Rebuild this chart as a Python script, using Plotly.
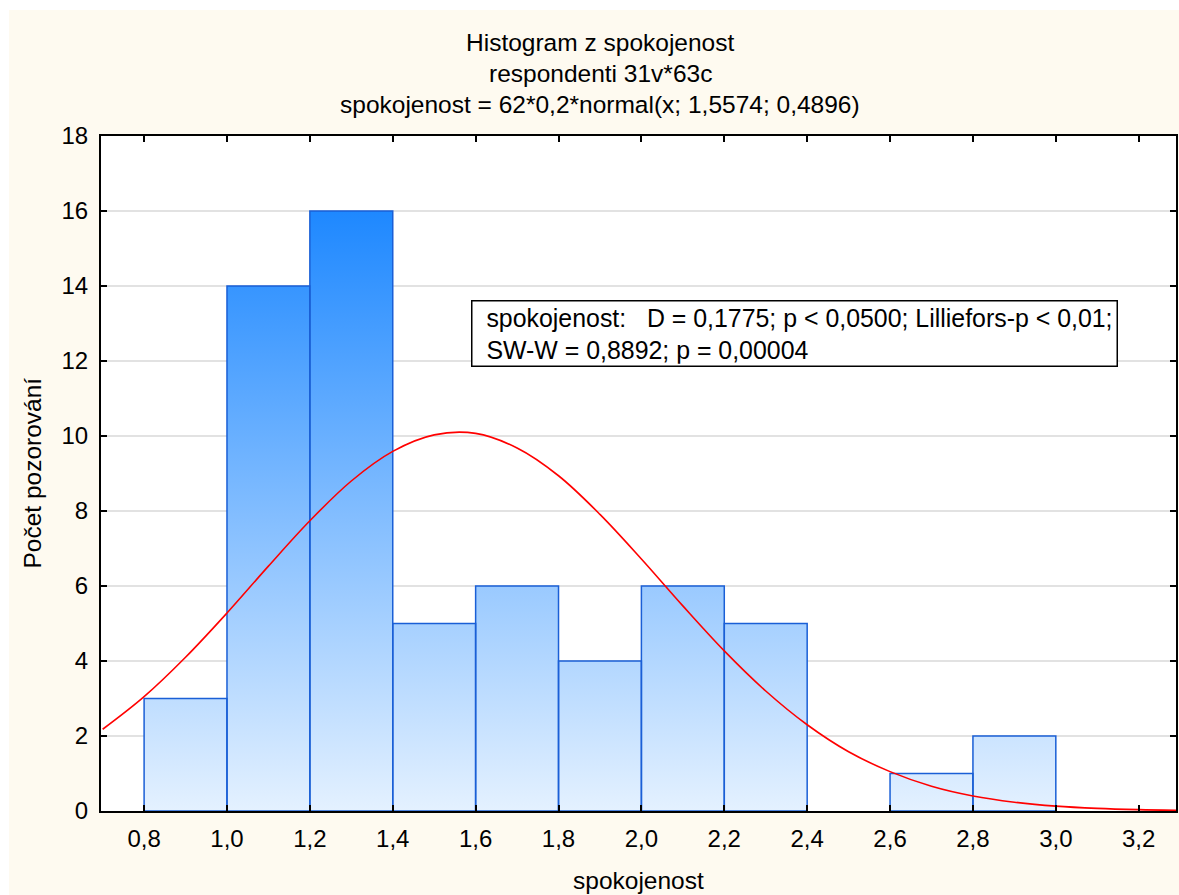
import plotly.graph_objects as go

# ---- data ----
bin_starts = [0.8, 1.0, 1.2, 1.4, 1.6, 1.8, 2.0, 2.2, 2.4, 2.6, 2.8]
bin_width = 0.2
counts = [3, 14, 16, 5, 6, 4, 6, 5, 0, 1, 2]

# fitted normal curve values
curve_x = [0.7, 0.8, 0.9, 1.0, 1.1, 1.2, 1.3, 1.4, 1.5, 1.6, 1.7, 1.8, 1.9, 2.0,
           2.1, 2.2, 2.3, 2.4, 2.5, 2.6, 2.7, 2.8, 2.9, 3.0, 3.1, 3.2, 3.3]
curve_y = [2.18, 3.05, 4.10, 5.28, 6.53, 7.74, 8.80, 9.59, 10.03, 10.07, 9.68, 8.94,
           7.91, 6.72, 5.47, 4.27, 3.20, 2.30, 1.58, 1.05, 0.66, 0.40, 0.235, 0.13,
           0.07, 0.036, 0.018]

title_lines = ["Histogram z spokojenost", "respondenti 31v*63c",
               "spokojenost = 62*0,2*normal(x; 1,5574; 0,4896)"]
stats_lines = ["spokojenost:&nbsp;&nbsp;&nbsp;D = 0,1775; p &lt; 0,0500; Lilliefors-p &lt; 0,01;",
               "SW-W = 0,8892; p = 0,00004"]
x_title = "spokojenost"
y_title = "Počet pozorování"

FONT = "Liberation Sans, Arial, sans-serif"
FS = 24.5
FT = 24
BEIGE = "#FEFAF0"

# build bar outlines from the data
bx, by = [], []
for s, c in zip(bin_starts, counts):
    if c <= 0:
        continue
    e = s + bin_width
    bx += [s, s, e, e, s, None]
    by += [0, c, c, 0, 0, None]

fig = go.Figure()
fig.add_trace(go.Scatter(
    x=bx, y=by, mode="lines", fill="toself",
    line=dict(color="#1A5FD6", width=1.5),
    fillgradient=dict(type="vertical",
                      colorscale=[[0, "#E4F1FF"], [1, "#1E88FF"]],
                      start=0, stop=max(counts)),
    hoverinfo="skip", showlegend=False,
))
fig.add_trace(go.Scatter(
    x=curve_x, y=curve_y, mode="lines",
    line=dict(color="#FF0000", width=1.6, shape="spline", smoothing=1.0),
    showlegend=False,
))

W, H = 1170, 885
fig.update_layout(
    width=W, height=H,
    paper_bgcolor=BEIGE, plot_bgcolor="white",
    margin=dict(l=92, r=1, t=126, b=84),
    separators=", ",
    font=dict(family=FONT, size=FS, color="black"),
    showlegend=False,
)
fig.update_xaxes(
    range=[0.696, 3.29], tick0=0.8, dtick=0.2, tickformat=".1f",
    showgrid=False, zeroline=False,
    showline=True, linecolor="black", linewidth=2, mirror="allticks",
    ticks="inside", ticklen=6, tickwidth=1.5, tickcolor="black",
    ticklabelstandoff=5,
    tickfont=dict(family=FONT, size=FT, color="black"),
)
fig.update_yaxes(
    range=[0, 18], tick0=0, dtick=2,
    showgrid=True, gridcolor="#E2E2E2", gridwidth=1.5, zeroline=False,
    showline=True, linecolor="black", linewidth=2, mirror="allticks",
    ticks="inside", ticklen=6, tickwidth=1.5, tickcolor="black",
    ticklabelstandoff=6,
    tickfont=dict(family=FONT, size=FT, color="black"),
)

# title lines
for line, dy in zip(title_lines, [94, 63, 32]):
    fig.add_annotation(
        xref="paper", yref="paper", x=0.4643, y=1, xanchor="center", yanchor="middle",
        yshift=dy, text=line, showarrow=False,
        font=dict(family=FONT, size=FS, color="black"),
    )

fig.add_annotation(
    xref="x", yref="y", x=1.588, y=12.73, xanchor="left", yanchor="middle",
    text="<br>".join("&nbsp;\u2009" + s for s in stats_lines), align="left", showarrow=False,
    width=640, bordercolor="black", borderwidth=1.5, borderpad=2,
    bgcolor="white", font=dict(family=FONT, size=24.9, color="black"),
)
fig.add_annotation(
    xref="paper", yref="paper", x=0.5, y=0, yanchor="middle", yshift=-69,
    text=x_title, showarrow=False, font=dict(family=FONT, size=FS, color="black"),
)
fig.add_annotation(
    xref="paper", yref="paper", x=0, y=0.5, xanchor="center", xshift=-69,
    text=y_title, textangle=-90, showarrow=False,
    font=dict(family=FONT, size=FS, color="black"),
)

fig.write_html("out.html", post_script="document.body.style.margin='10px 0 0 9px';")
